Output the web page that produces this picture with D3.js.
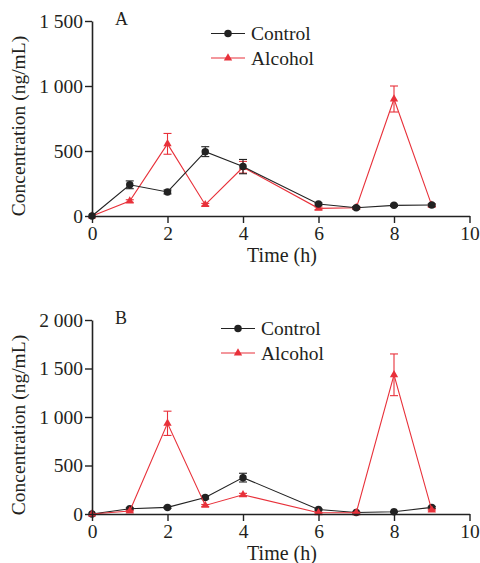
<!DOCTYPE html>
<html>
<head>
<meta charset="utf-8">
<script src="https://cdn.jsdelivr.net/npm/d3@7"></script>
<style>
  body { margin: 0; background: #fff; }
  text { font-family: "Liberation Serif", "Times New Roman", serif; fill: #231f20; }
</style>
</head>
<body>
<div id="chart"></div>
<script>
// sampling times (h)
var times = [0, 1, 2, 3, 4, 6, 7, 8, 9];

// panel A
var controlA = [0, 240, 185, 495, 380, 92, 64, 82, 85];
var controlErrA = [0, 30, 15, 38, 55, 8, 8, 8, 8];
var alcoholA = [0, 115, 555, 87, 375, 59, 64, 900, 82];
var alcoholErrA = [0, 10, 80, 10, 45, 10, 8, 100, 8];

// panel B
var controlB = [0, 54, 68, 170, 375, 47, 16, 23, 68];
var controlErrB = [0, 10, 10, 15, 45, 8, 5, 5, 10];
var alcoholB = [0, 30, 935, 88, 198, 13, 13, 1435, 41];
var alcoholErrB = [0, 8, 125, 10, 15, 5, 5, 215, 8];

var xTicks = [0, 2, 4, 6, 8, 10];
var yTicksA = [0, 500, 1000, 1500];
var yTicksB = [0, 500, 1000, 1500, 2000];

var BLACK = "#222222";
var RED = "#e8313a";
var TEXT = "#231f20";

var svg = d3.select("#chart").append("svg")
    .attr("width", 480)
    .attr("height", 563);

function fmt(v) {
    // thousands separated with a space, as in the figure
    return d3.format(",")(v).replace(/,/g, " ");
}

function marker(shape) {
    return shape === "circle" ? d3.symbol(d3.symbolCircle, 44) : d3.symbol(d3.symbolTriangle, 30);
}

function drawPanel(opts) {
    var x = d3.scaleLinear().domain([0, 10]).range([92, 469.5]);
    var y = d3.scaleLinear().domain([0, opts.yMax]).range([opts.bottom, opts.top]);
    var g = svg.append("g");

    var series = [
        { name: "Control", values: opts.control, err: opts.controlErr, color: BLACK, shape: "circle" },
        { name: "Alcohol", values: opts.alcohol, err: opts.alcoholErr, color: RED, shape: "triangle" }
    ];
    var order = opts.redOnTop ? [series[0], series[1]] : [series[1], series[0]];

    var line = d3.line()
        .x(function (d) { return x(d.t); })
        .y(function (d) { return y(d.v); });

    order.forEach(function (s) {
        var pts = times.map(function (t, i) { return { t: t, v: s.values[i], e: s.err[i] }; });
        var sg = g.append("g");
        sg.append("path")
            .datum(pts)
            .attr("d", line)
            .attr("fill", "none")
            .attr("stroke", s.color)
            .attr("stroke-width", 1.1);
        var eb = sg.selectAll("g.err")
            .data(pts.filter(function (d) { return d.e > 0; }))
            .enter().append("g")
            .attr("stroke", s.color)
            .attr("stroke-width", 1.1);
        eb.append("line")
            .attr("x1", function (d) { return x(d.t); })
            .attr("x2", function (d) { return x(d.t); })
            .attr("y1", function (d) { return y(d.v - d.e); })
            .attr("y2", function (d) { return y(d.v + d.e); });
        [1, -1].forEach(function (sign) {
            eb.append("line")
                .attr("x1", function (d) { return x(d.t) - 4; })
                .attr("x2", function (d) { return x(d.t) + 4; })
                .attr("y1", function (d) { return y(d.v + sign * d.e); })
                .attr("y2", function (d) { return y(d.v + sign * d.e); });
        });
        sg.selectAll("path.m")
            .data(pts)
            .enter().append("path")
            .attr("class", "m")
            .attr("d", marker(s.shape))
            .attr("fill", s.color)
            .attr("transform", function (d) { return "translate(" + x(d.t) + "," + y(d.v) + ")"; });
    });

    // axes
    var xAxis = g.append("g")
        .attr("transform", "translate(0," + opts.bottom + ")")
        .call(d3.axisBottom(x).tickValues(xTicks).tickSize(7).tickSizeOuter(0).tickPadding(3));
    var yAxis = g.append("g")
        .attr("transform", "translate(92,0)")
        .call(d3.axisLeft(y).tickValues(opts.yTicks).tickFormat(fmt).tickSize(7).tickSizeOuter(0).tickPadding(2));
    [xAxis, yAxis].forEach(function (a) {
        a.select(".domain").attr("stroke", BLACK).attr("stroke-width", 1.6);
        a.selectAll(".tick line").attr("stroke", BLACK).attr("stroke-width", 1.4);
        a.selectAll(".tick text")
            .attr("font-family", "Liberation Serif, Times New Roman, serif")
            .attr("font-size", 19.5)
            .attr("fill", TEXT);
    });

    g.append("text")
        .attr("x", 282)
        .attr("y", opts.bottom + 46)
        .attr("text-anchor", "middle")
        .attr("font-size", 20)
        .text("Time (h)");

    g.append("text")
        .attr("transform", "translate(25," + opts.labelMid + ") rotate(-90)")
        .attr("text-anchor", "middle")
        .attr("font-size", 19.5)
        .text("Concentration (ng/mL)");

    g.append("text")
        .attr("x", 115)
        .attr("y", opts.top + 3.5)
        .attr("font-size", 18)
        .text(opts.letter);

    // legend
    series.forEach(function (s, i) {
        var ly = opts.legendY + i * 24.5;
        var lx = opts.legendX;
        g.append("line")
            .attr("x1", lx).attr("x2", lx + 34)
            .attr("y1", ly).attr("y2", ly)
            .attr("stroke", s.color)
            .attr("stroke-width", 1.1);
        g.append("path")
            .attr("d", marker(s.shape))
            .attr("fill", s.color)
            .attr("transform", "translate(" + (lx + 17) + "," + ly + ")");
        g.append("text")
            .attr("x", lx + 40)
            .attr("y", ly + 6.5)
            .attr("font-size", 19.5)
            .text(s.name);
    });
}

drawPanel({
    letter: "A", top: 21, bottom: 216, yMax: 1500, yTicks: yTicksA,
    control: controlA, controlErr: controlErrA, alcohol: alcoholA, alcoholErr: alcoholErrA,
    redOnTop: false, legendX: 211, legendY: 33.5, labelMid: 126
});
drawPanel({
    letter: "B", top: 320, bottom: 514, yMax: 2000, yTicks: yTicksB,
    control: controlB, controlErr: controlErrB, alcohol: alcoholB, alcoholErr: alcoholErrB,
    redOnTop: true, legendX: 221, legendY: 328.5, labelMid: 425
});
</script>
</body>
</html>
